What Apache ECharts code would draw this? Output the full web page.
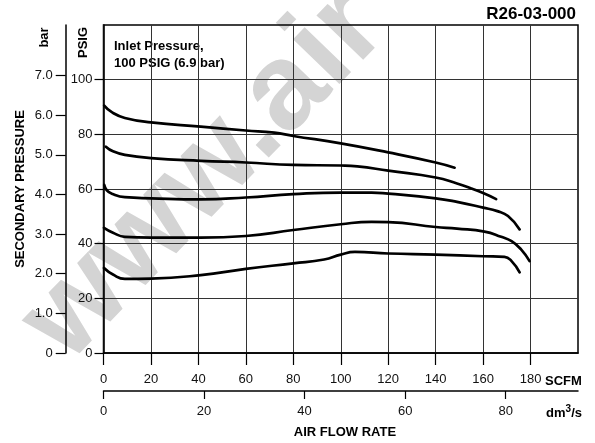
<!DOCTYPE html>
<html>
<head>
<meta charset="utf-8">
<script src="https://cdn.jsdelivr.net/npm/echarts@6/dist/echarts.min.js"></script>
<style>
html,body{margin:0;padding:0;background:#fff;}
#chart{width:595px;height:443px;}
</style>
</head>
<body>
<div id="chart"></div>
<script>
// ---- Data (SCFM vs PSIG) ----
const curveA_x = [0.3, 3.5, 9, 20, 41, 60, 72, 80, 100, 120, 140, 148];
const curveA_y = [90.5, 88.1, 86.0, 84.4, 82.8, 81.4, 80.6, 79.4, 76.7, 73.4, 69.7, 67.8];

const curveB_x = [1, 4, 9, 20, 41, 60, 80, 100, 107, 120, 140, 149, 155, 160, 165.5];
const curveB_y = [75.5, 73.8, 72.5, 71.3, 70.3, 69.7, 68.8, 68.6, 68.3, 66.7, 64.2, 62.0, 60.2, 58.5, 56.3];

const curveC_x = [0.3, 1.4, 3.5, 9, 20, 41, 60, 80, 100, 113, 120, 140, 149, 160, 166, 170.5, 175.4];
const curveC_y = [61.5, 59.5, 58.3, 57.0, 56.6, 56.2, 56.9, 58.1, 58.7, 58.7, 58.3, 56.6, 55.3, 53.2, 51.9, 50.1, 45.2];

const curveD_x = [0.2, 4, 9, 20, 41, 60, 80, 100, 113, 120, 140, 149, 160.6, 167.6, 172, 176, 179.6];
const curveD_y = [45.8, 44.0, 42.5, 42.2, 42.2, 42.8, 45.0, 47.1, 48.0, 47.9, 46.1, 45.5, 44.4, 42.5, 40.9, 37.9, 33.6];

const curveE_x = [0.2, 4, 9, 20, 41, 60, 80, 93, 100, 106, 120, 140, 160, 169, 172, 175.4];
const curveE_y = [31.1, 28.7, 27.1, 27.2, 28.5, 30.8, 32.8, 34.2, 36.0, 37.0, 36.4, 36.0, 35.4, 35.2, 33.6, 29.5];

const scfmTicks = [0, 20, 40, 60, 80, 100, 120, 140, 160, 180];
const dm3sTicks = [0, 20, 40, 60, 80];
const psigTicks = [0, 20, 40, 60, 80, 100];
const barTicks  = [0, 1, 2, 3, 4, 5, 6, 7];

const SCFM_MAX = 200, PSIG_MAX = 120;
const SCFM_TO_DM3S = 0.4719;   // 1 SCFM = 0.4719 dm3/s
const PSI_PER_BAR = 14.5;

function pairs(xs, ys){ return xs.map((x,i)=>[x, ys[i]]); }

const FONT = '"Liberation Sans", Arial, Helvetica, sans-serif';
const chart = echarts.init(document.getElementById('chart'), null, {renderer:'canvas'});

function lineSeries(name, xs, ys){
  return {
    name, type:'line', xAxisIndex:0, yAxisIndex:0,
    data: pairs(xs, ys), showSymbol:false, symbol:'none',
    smooth:0.5,
    lineStyle:{color:'#000', width:2.7, cap:'round', join:'round'},
    z:5, silent:true, animation:false
  };
}

const labelStyle = {color:'#111', fontFamily:FONT, fontSize:13};

chart.setOption({
  animation:false,
  backgroundColor:'#fff',
  grid:{left:103.5, right:17, top:25, bottom:90, show:true, borderColor:'#000', borderWidth:1.5, backgroundColor:'transparent'},
  xAxis:[
    {
      type:'value', position:'bottom', min:0, max:SCFM_MAX, interval:20,
      axisLine:{show:true, onZero:false, lineStyle:{color:'#000', width:1.5}},
      axisTick:{show:true, length:12, lineStyle:{color:'#000', width:1.2}, customValues:scfmTicks},
      axisLabel:Object.assign({margin:20, customValues:scfmTicks}, labelStyle),
      splitLine:{show:true, lineStyle:{color:'#333', width:1}}
    },
    {
      type:'value', position:'bottom', offset:38, min:0, max:SCFM_MAX*SCFM_TO_DM3S, interval:20,
      axisLine:{show:true, onZero:false, lineStyle:{color:'#000', width:1.5}},
      axisTick:{show:true, length:8, lineStyle:{color:'#000', width:1.2}, customValues:dm3sTicks},
      axisLabel:Object.assign({margin:14, customValues:dm3sTicks}, labelStyle),
      splitLine:{show:false}
    }
  ],
  yAxis:[
    {
      type:'value', position:'left', min:0, max:PSIG_MAX, interval:20,
      axisLine:{show:true, onZero:false, lineStyle:{color:'#000', width:1.5}},
      axisTick:{show:true, length:9, lineStyle:{color:'#000', width:1.2}, customValues:psigTicks},
      axisLabel:Object.assign({margin:11, customValues:psigTicks}, labelStyle),
      splitLine:{show:true, lineStyle:{color:'#333', width:1}}
    },
    {
      type:'value', position:'left', offset:37.8, min:0, max:PSIG_MAX/PSI_PER_BAR,
      axisLine:{show:true, onZero:false, lineStyle:{color:'#000', width:1.5}},
      axisTick:{show:true, length:10, lineStyle:{color:'#000', width:1.2}, customValues:barTicks},
      axisLabel:Object.assign({margin:13, customValues:barTicks, formatter:v=> v===0 ? '0' : v.toFixed(1)}, labelStyle),
      splitLine:{show:false}
    }
  ],
  graphic:[
    {type:'text', x:205, y:175, rotation:46*Math.PI/180, z:-10, silent:true,
     style:{text:'www.air', fill:'#d4d4d4', font:'bold 122px '+FONT, textAlign:'center', textVerticalAlign:'middle'}},
    {type:'text', x:576, y:14, style:{text:'R26-03-000', fill:'#000', font:'bold 17px '+FONT, textAlign:'right', textVerticalAlign:'middle'}},
    {type:'text', x:114, y:38, style:{text:'Inlet Pressure,\n100 PSIG (6.9 bar)', fill:'#000', font:'bold 13px '+FONT, lineHeight:17, textAlign:'left', textVerticalAlign:'top'}},
    {type:'text', x:44, y:37.5, rotation:Math.PI/2, style:{text:'bar', fill:'#000', font:'bold 13px '+FONT, textAlign:'center', textVerticalAlign:'middle'}},
    {type:'text', x:83, y:42.5, rotation:Math.PI/2, style:{text:'PSIG', fill:'#000', font:'bold 13px '+FONT, textAlign:'center', textVerticalAlign:'middle'}},
    {type:'text', x:20, y:189, rotation:Math.PI/2, style:{text:'SECONDARY PRESSURE', fill:'#000', font:'bold 13px '+FONT, textAlign:'center', textVerticalAlign:'middle'}},
    {type:'text', x:545, y:381.5, style:{text:'SCFM', fill:'#000', font:'bold 13px '+FONT, textAlign:'left', textVerticalAlign:'middle'}},
    {type:'text', x:582, y:412, style:{text:'{a|dm}{s|3}{a|/s}', textAlign:'right', textVerticalAlign:'middle',
      rich:{a:{fill:'#000', font:'bold 13px '+FONT, fontFamily:FONT, fontWeight:'bold', fontSize:13, color:'#000', verticalAlign:'bottom', lineHeight:16},
            s:{fill:'#000', font:'bold 10px '+FONT, fontFamily:FONT, fontWeight:'bold', fontSize:10, color:'#000', verticalAlign:'top', lineHeight:16, padding:[0,0,6,0]}}}},
    {type:'text', x:345, y:432, style:{text:'AIR FLOW RATE', fill:'#000', font:'bold 13px '+FONT, textAlign:'center', textVerticalAlign:'middle'}}
  ],
  series:[
    lineSeries('A', curveA_x, curveA_y),
    lineSeries('B', curveB_x, curveB_y),
    lineSeries('C', curveC_x, curveC_y),
    lineSeries('D', curveD_x, curveD_y),
    lineSeries('E', curveE_x, curveE_y)
  ]
});
</script>
</body>
</html>
